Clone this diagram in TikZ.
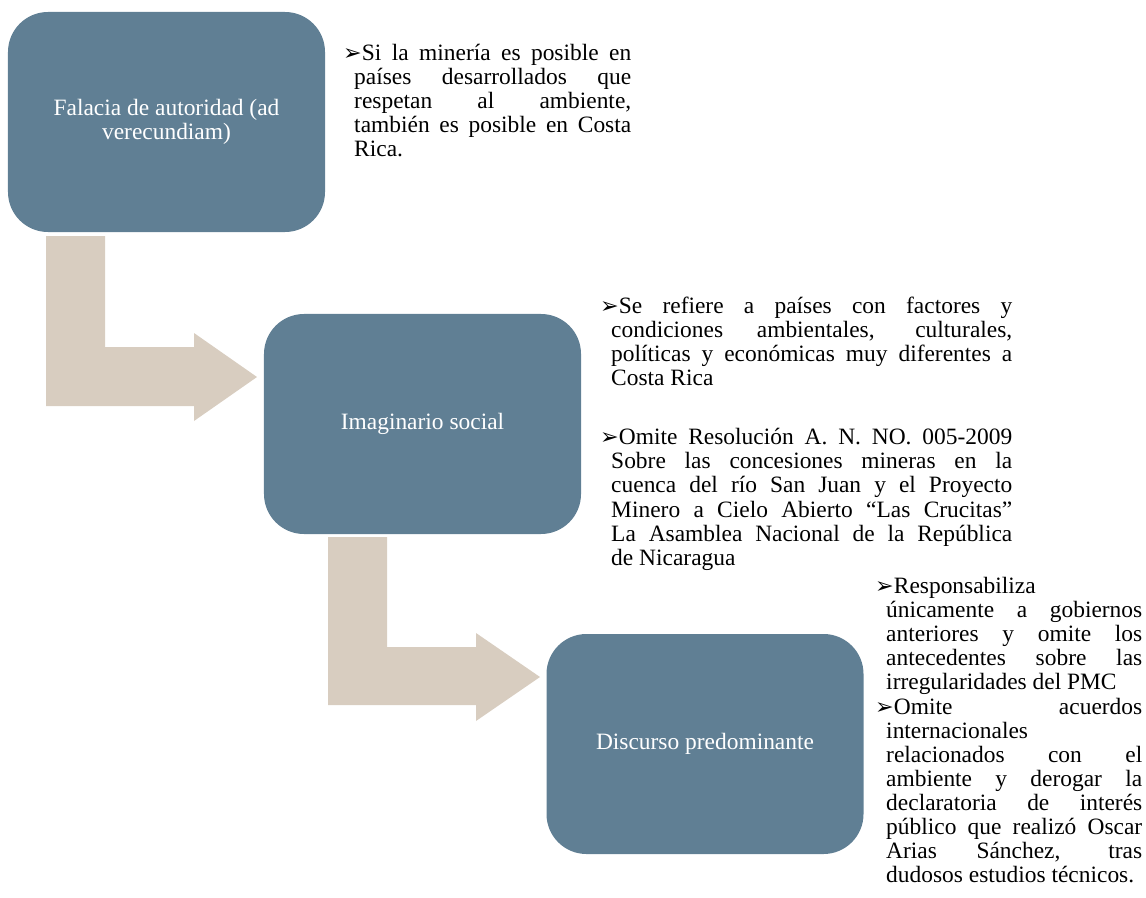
\documentclass[tikz,border=0pt]{standalone}
\usepackage{fontspec}
\setmainfont{Liberation Serif}
\newfontfamily\symb{DejaVu Sans}
\definecolor{cajaazul}{RGB}{96,127,148}
\definecolor{flecha}{RGB}{216,205,192}
\newcommand{\vineta}{\noindent\hangindent=0.33cm\hangafter=1{\symb\fontsize{19}{19}\selectfont ➢}}
\hbadness=10000

\begin{document}
\begin{tikzpicture}[x=0.03cm,y=-0.03cm]
      \useasboundingbox (0,0) rectangle (1146,898);

      % flechas dobladas
      \begin{scope}[every path/.style={fill=flecha}]
        \path (46,236) -- (105,236) -- (105,347) -- (194,347) -- (194,333)
          -- (257,377) -- (194,421) -- (194,406) -- (46,406) -- cycle;
        \path (328,537) -- (387,537) -- (387,647) -- (476,647) -- (476,633)
          -- (540,677) -- (476,721) -- (476,705) -- (328,705) -- cycle;
      \end{scope}

      \begin{scope}[every node/.style={rectangle,rounded corners=1.2cm,fill=cajaazul,
          text=white,minimum width=9.51cm,minimum height=6.6cm,
          align=center,font=\fontsize{20}{21}\selectfont}]
        \node (falacia)    at (166.5,122) {Falacia de autoridad (ad\\verecundiam)};
        \node (imaginario) at (422.5,424) {Imaginario social};
        \node (discurso)   at (705,744)   {Discurso predominante};
      \end{scope}

      \begin{scope}[every node/.style={anchor=north west,inner sep=0pt,align=justify,
          font=\fontsize{20}{20.5}\selectfont}]
        \node[text width=8.64cm] (nota1) at (343,44) {%
          \vineta Si la minería es posible en\linebreak
          países desarrollados que\linebreak
          respetan al ambiente,\linebreak
          también es posible en Costa\linebreak
          Rica.\par};
        \node[text width=12.36cm] (nota2) at (600,297) {%
          \vineta Se refiere a países con factores y\linebreak
          condiciones ambientales, culturales,\linebreak
          políticas y económicas muy diferentes a\linebreak
          Costa Rica\par\vspace{30pt}
          \vineta Omite Resolución A. N. NO. 005-2009\linebreak
          Sobre las concesiones mineras en la\linebreak
          cuenca del río San Juan y el Proyecto\linebreak
          Minero a Cielo Abierto “Las Crucitas”\linebreak
          La Asamblea Nacional de la República\linebreak
          de Nicaragua\par};
        \node[text width=8.01cm] (nota3) at (875,577) {%
          \vineta Responsabiliza\linebreak
          únicamente a gobiernos\linebreak
          anteriores y omite los\linebreak
          antecedentes sobre las\linebreak
          irregularidades del PMC\par\vspace{1pt}
          \vineta Omite acuerdos\linebreak
          internacionales\linebreak
          relacionados con el\linebreak
          ambiente y derogar la\linebreak
          declaratoria de interés\linebreak
          público que realizó Oscar\linebreak
          Arias Sánchez, tras\linebreak
          dudosos estudios técnicos.\par};
      \end{scope}

    \end{tikzpicture}
\end{document}
